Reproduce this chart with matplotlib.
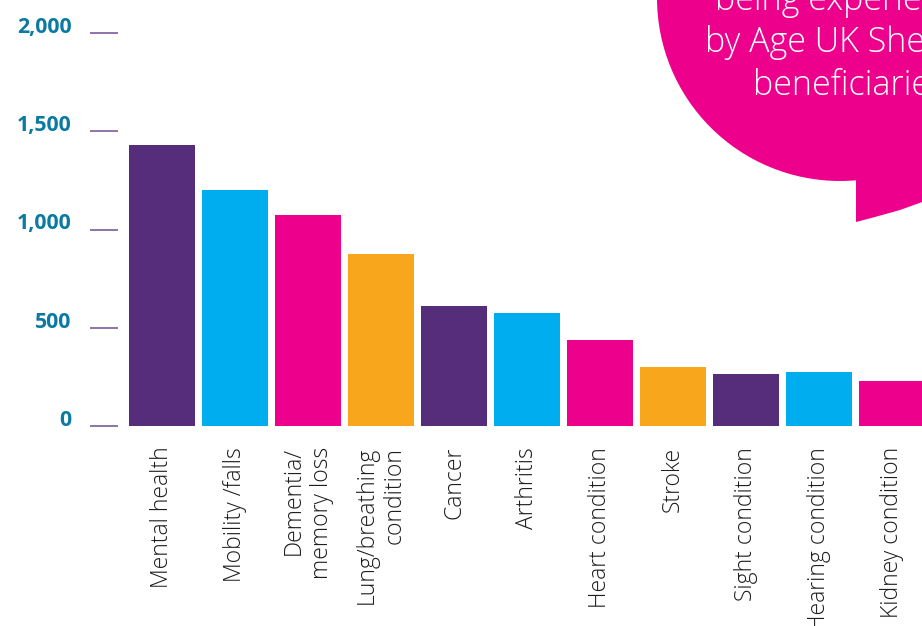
import numpy as np
import matplotlib
matplotlib.use("Agg")
import matplotlib.pyplot as plt
from matplotlib.patches import Circle, Polygon

# data
categories = ["Mental health", "Mobility /falls", "Dementia/\nmemory loss",
              "Lung/breathing\ncondition", "Cancer", "Arthritis", "Heart condition",
              "Stroke", "Sight condition", "Hearing condition", "Kidney condition"]
values = [1430, 1200, 1075, 875, 610, 575, 440, 300, 265, 275, 230]
yticks = [0, 500, 1000, 1500, 2000]
ytick_labels = ["0", "500", "1,000", "1,500", "2,000"]
bubble_lines = ["being experienced", "by Age UK Sheffield", "beneficiaries"]

palette = ["#552d7a", "#00aeef", "#ec008c", "#f8a61b"]
bar_colors = [palette[i % 4] for i in range(len(values))]

W, H = 922, 626
fig = plt.figure(figsize=(W / 100, H / 100), dpi=100)

# speech bubble drawn in pixel coordinates on a full-figure overlay
over = fig.add_axes([0, 0, 1, 1], zorder=0)
over.set_xlim(0, W)
over.set_ylim(H, 0)
over.axis("off")
over.add_patch(Circle((840, -2), 183, color="#ec008c", lw=0))
over.add_patch(Polygon([(856, 150), (856, 222), (875, 217), (900, 210), (925, 201), (925, 150)],
                       closed=True, color="#ec008c", lw=0))
for txt, x, y in zip(bubble_lines, [715, 705, 753], [10, 52, 95]):
  over.text(x, y, txt, color="white", fontsize=24.5, family="Open Sans", weight="light",
            ha="left", va="baseline")

# main bar chart
ax = fig.add_axes([118 / W, (H - 426) / H, (W - 118) / W, 426 / H], zorder=1)
ax.patch.set_alpha(0)
x = np.arange(len(values))
ax.bar(x, values, width=66 / 73, color=bar_colors, linewidth=0)

ax.set_xlim((118 - 162) / 73, (W - 162) / 73)
ax.set_ylim(0, 426 / 0.1965)
for s in ax.spines.values():
  s.set_visible(False)

ax.set_yticks(yticks, ytick_labels)
ax.tick_params(axis="y", direction="out", length=20, width=1.1, color="#6f4f94", pad=13.5)
for lab in ax.get_yticklabels():
  lab.set_family("Open Sans")
  lab.set_weight("bold")
  lab.set_fontsize(15.3)
  lab.set_color("#0a7aa2")
  lab.set_va("baseline")

ax.set_xticks(x, categories, rotation=90)
ax.tick_params(axis="x", length=0, pad=15)
for lab in ax.get_xticklabels():
  lab.set_family("Open Sans")
  lab.set_weight("light")
  lab.set_fontsize(16.5)
  lab.set_color("#1d1d1b")
  lab.set_va("top")
  lab.set_ha("center")
  lab.set_multialignment("right")

fig.savefig("out.png", dpi=100)
